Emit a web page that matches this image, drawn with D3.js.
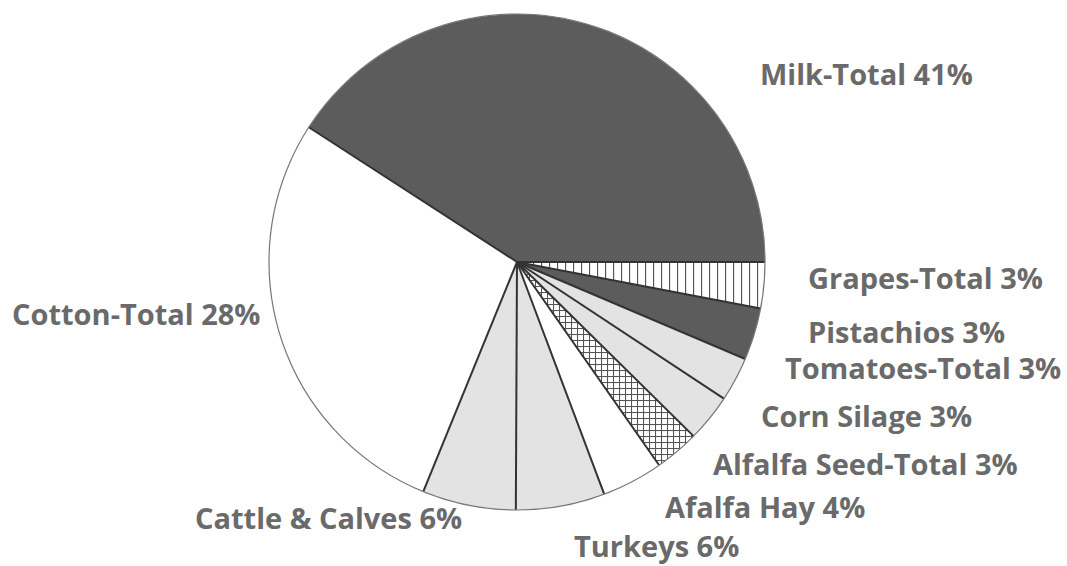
<!DOCTYPE html>
<html>
<head>
<meta charset="utf-8">
<script src="https://cdn.jsdelivr.net/npm/d3@7"></script>
<style>
  html, body { margin: 0; padding: 0; background: #fff; }
  svg { display: block; }
  .lbl { font-family: "Open Sans", "Noto Sans", sans-serif; font-weight: 700; fill: #6a6a6a; }
</style>
</head>
<body>
<svg id="chart" width="1067" height="566"></svg>
<script>
// Data (clockwise from 3 o'clock)
const categories = ["Grapes-Total", "Pistachios", "Tomatoes-Total", "Corn Silage",
  "Alfalfa Seed-Total", "Afalfa Hay", "Turkeys", "Cattle & Calves", "Cotton-Total", "Milk-Total"];
const shares = [3.0, 3.4, 2.9, 3.1, 2.9, 4.0, 5.8, 6.1, 28.0, 40.9];
const labelPercents = ["3%", "3%", "3%", "3%", "3%", "4%", "6%", "6%", "28%", "41%"];

// Styling / layout (separate from data)
const fills = ["url(#vstripes)", "#5c5c5c", "#e3e3e3", "#e3e3e3", "url(#xhatch)",
  "#ffffff", "#e3e3e3", "#e3e3e3", "#ffffff", "#5c5c5c"];
const labelAnchors = [[808, 289], [808, 343], [785, 379], [761, 427], [713, 475],
  [665, 518], [574, 557], [195, 529], [12, 325], [760, 85]];

const W = 1067, H = 566;
const cx = 517, cy = 262, R = 248;

const svg = d3.select("#chart");
const defs = svg.append("defs");

const vs = defs.append("pattern").attr("id", "vstripes").attr("patternUnits", "userSpaceOnUse")
  .attr("width", 8).attr("height", 8);
vs.append("rect").attr("width", 8).attr("height", 8).attr("fill", "#fff");
vs.append("line").attr("x1", 0.5).attr("y1", 0).attr("x2", 0.5).attr("y2", 8)
  .attr("stroke", "#555").attr("stroke-width", 1.3);

const xh = defs.append("pattern").attr("id", "xhatch").attr("patternUnits", "userSpaceOnUse")
  .attr("width", 6).attr("height", 6);
xh.append("rect").attr("width", 6).attr("height", 6).attr("fill", "#fff");
xh.append("line").attr("x1", 0).attr("y1", 0.5).attr("x2", 6).attr("y2", 0.5)
  .attr("stroke", "#555").attr("stroke-width", 1.1);
xh.append("line").attr("x1", 0.5).attr("y1", 0).attr("x2", 0.5).attr("y2", 6)
  .attr("stroke", "#555").attr("stroke-width", 1.1);

const pie = d3.pie().sort(null).value(d => d)
  .startAngle(Math.PI / 2).endAngle(Math.PI / 2 + 2 * Math.PI);
const arcs = pie(shares);
const arc = d3.arc().innerRadius(0).outerRadius(R);

const g = svg.append("g").attr("transform", `translate(${cx},${cy})`);

g.selectAll("path.slice").data(arcs).enter().append("path")
  .attr("class", "slice")
  .attr("d", arc)
  .attr("fill", (d, i) => fills[i])
  .attr("stroke", "none");

// radial dividers
g.selectAll("line.div").data(arcs).enter().append("line")
  .attr("class", "div")
  .attr("x1", 0).attr("y1", 0)
  .attr("x2", d => R * Math.sin(d.startAngle))
  .attr("y2", d => -R * Math.cos(d.startAngle))
  .attr("stroke", "#333").attr("stroke-width", 2);

// outer rim
g.append("circle").attr("r", R).attr("fill", "none")
  .attr("stroke", "#777").attr("stroke-width", 1.2);

// labels
svg.selectAll("text.lbl").data(categories).enter().append("text")
  .attr("class", "lbl")
  .attr("x", (d, i) => labelAnchors[i][0])
  .attr("y", (d, i) => labelAnchors[i][1])
  .attr("font-size", 29)
  .text((d, i) => `${d} ${labelPercents[i]}`);
</script>
</body>
</html>
